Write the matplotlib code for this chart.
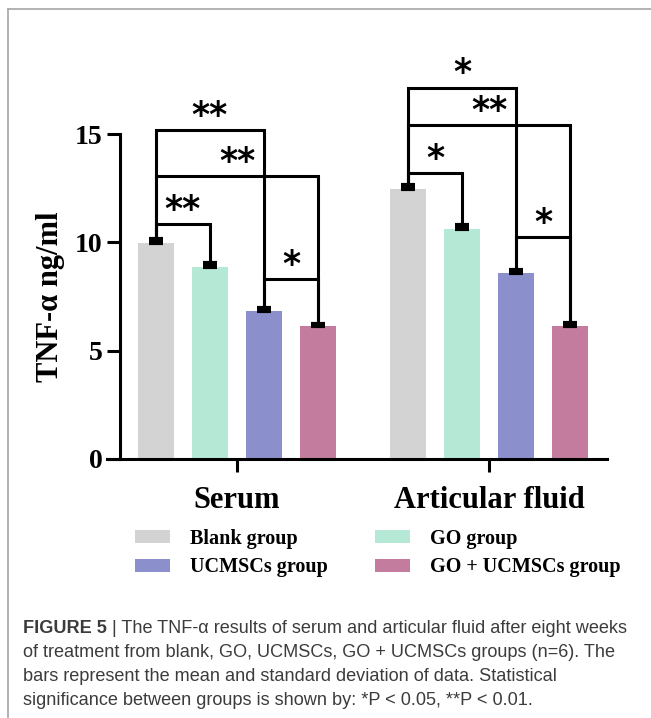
import numpy as np
import matplotlib.pyplot as plt
from matplotlib.patches import Patch
from matplotlib.lines import Line2D

# TNF-alpha levels, mean and SD for each group
groups = ['Serum', 'Articular fluid']
series = ['Blank group', 'GO group', 'UCMSCs group', 'GO + UCMSCs group']
colors = ['#d3d3d3', '#b5e9d6', '#8b90cc', '#c37c9d']

serum_mean = [9.97, 8.85, 6.83, 6.15]
serum_sd = [0.20, 0.18, 0.15, 0.08]
fluid_mean = [12.45, 10.63, 8.57, 6.15]
fluid_sd = [0.19, 0.17, 0.14, 0.11]

# (group index, bar a, bar b, bracket height, stars)
brackets = [
    (0, 0, 1, 10.84, '**'),
    (0, 0, 3, 13.06, '**'),
    (0, 0, 2, 15.18, '**'),
    (0, 2, 3, 8.31, '*'),
    (1, 0, 1, 13.21, '*'),
    (1, 0, 3, 15.41, '**'),
    (1, 0, 2, 17.14, '*'),
    (1, 2, 3, 10.26, '*'),
]

yticks = [0, 5, 10, 15]

serif = 'Liberation Serif'
W, H = 651, 718
fig = plt.figure(figsize=(W / 100, H / 100), dpi=100)
ax = fig.add_axes([120 / W, (H - 459) / H, 487 / W, 325 / H])

means = np.array([serum_mean, fluid_mean])
sds = np.array([serum_sd, fluid_sd])
step = 54 / 252
width = 36 / 252
offsets = (np.arange(4) - 1.5) * step
gx = np.arange(len(groups))

for k in range(4):
    xs = gx + offsets[k]
    ax.bar(xs, means[:, k], width=width, color=colors[k], zorder=2)
    ax.errorbar(xs, means[:, k], yerr=[np.zeros(2), sds[:, k]], fmt='none',
                ecolor='black', elinewidth=2, capsize=5, capthick=3, zorder=3)

# significance brackets
for g, a, b, h, lab in brackets:
    xa = gx[g] + offsets[a]
    xb = gx[g] + offsets[b]
    ya = means[g, a] + sds[g, a]
    yb = means[g, b] + sds[g, b]
    ax.plot([xa, xa, xb, xb], [ya, h, h, yb], color='black', lw=2.2,
            solid_joinstyle='miter', clip_on=False, zorder=4)
    ax.annotate(lab, xy=((xa + xb) / 2, h), xytext=(0, 3), textcoords='offset points',
                ha='center', va='baseline', fontsize=25, fontweight='bold',
                family='DejaVu Sans', annotation_clip=False)

ax.set_xlim(-0.464, 1.468)
ax.set_ylim(0, 15)
ax.set_yticks(yticks)
ax.set_xticks(gx)
ax.set_xticklabels(groups, fontsize=22, fontweight='bold', family=serif)
for t in ax.get_yticklabels():
    t.set_fontsize(20)
    t.set_fontweight('bold')
    t.set_family(serif)
ax.tick_params(axis='both', length=9.5, width=2.2, direction='out')
ax.tick_params(axis='y', pad=3)
ax.tick_params(axis='x', pad=10)
for s in ['top', 'right']:
    ax.spines[s].set_visible(False)
for s in ['left', 'bottom']:
    ax.spines[s].set_linewidth(2.2)
ax.spines['bottom'].set_bounds(-0.464 - 13 / 252, 1.468)
ax.set_ylabel('TNF-α ng/ml', fontsize=22, fontweight='bold', family=serif, labelpad=7)

# legend: two columns, blank/UCMSCs on the left
order = [0, 2, 1, 3]
handles = [Patch(facecolor=colors[i], edgecolor='none') for i in order]
fig.legend(handles, [series[i] for i in order], ncol=2, loc='upper left',
           bbox_to_anchor=(135 / W, 1 - 529 / H), frameon=False, borderpad=0,
           borderaxespad=0, handlelength=1.75, handleheight=0.62, handletextpad=1.0,
           columnspacing=2.3, labelspacing=0.42,
           prop={'family': serif, 'weight': 'bold', 'size': 14.5})

# caption
cap_col = '#3c3c3c'
cap_size = 13.1
t1 = fig.text(23 / W, 1 - 637 / H, 'FIGURE 5', fontsize=cap_size, fontweight='bold',
              color=cap_col, family='Liberation Sans', va='bottom')
ax.annotate(' | The TNF-α results of serum and articular fluid after eight weeks',
            xy=(1, 0), xycoords=t1, va='bottom', ha='left', fontsize=cap_size,
            color=cap_col, family='Liberation Sans', annotation_clip=False)
rest = ['of treatment from blank, GO, UCMSCs, GO + UCMSCs groups (n=6). The',
        'bars represent the mean and standard deviation of data. Statistical',
        'significance between groups is shown by: *P < 0.05, **P < 0.01.']
for i, line in enumerate(rest):
    fig.text(23 / W, 1 - (637 + 24 * (i + 1)) / H, line, fontsize=cap_size,
             color=cap_col, family='Liberation Sans', va='bottom')

# page frame
fig.add_artist(Line2D([7.5 / W, 1], [1 - 8.5 / H] * 2, color='#a6a6a6', lw=1.2))
fig.add_artist(Line2D([7.5 / W] * 2, [0, 1 - 8.5 / H], color='#a6a6a6', lw=1.2))

fig.savefig('out.png', dpi=100)
